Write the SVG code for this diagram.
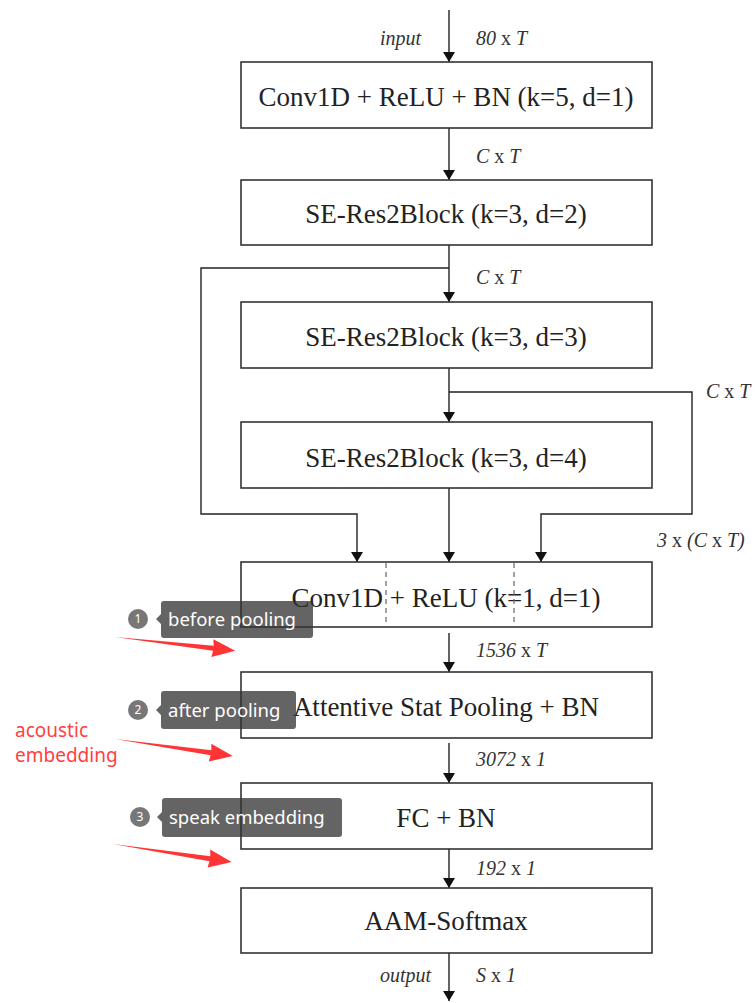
<svg xmlns="http://www.w3.org/2000/svg" width="756" height="1003" viewBox="0 0 756 1003">
<defs>
<marker id="ah" viewBox="0 0 10 16" refX="10" refY="8" markerWidth="10" markerHeight="16" markerUnits="userSpaceOnUse" orient="auto">
<path d="M0,2 L10,8 L0,14 Z" fill="#111"/>
</marker>
<style>
.box{fill:#fff;stroke:#333;stroke-width:1.6}
.bt{font-family:"Liberation Serif","Times New Roman",serif;font-size:27px;fill:#222;text-anchor:middle}
.lb{font-family:"Liberation Serif","Times New Roman",serif;font-size:20px;fill:#333;font-style:italic}
.rm{font-style:normal}
.ln{fill:none;stroke:#222;stroke-width:1.4}
.ar{fill:none;stroke:#222;stroke-width:1.4;marker-end:url(#ah)}
.dash{stroke:#666;stroke-width:1.2;stroke-dasharray:5,4}
.tip{fill:#333;fill-opacity:0.76}
.num{fill:#777}
.nt{font-family:"Noto Sans","DejaVu Sans",sans-serif;font-size:12px;fill:#fff;text-anchor:middle}
.tt{font-family:"Noto Sans","DejaVu Sans",sans-serif;font-size:18.5px;fill:#fff}
.red{fill:#ff3535}
.rt{font-family:"Noto Sans","DejaVu Sans",sans-serif;font-size:19px;fill:#ff4040}
</style>
</defs>
<rect width="756" height="1003" fill="#fff"/>

<g id="connectors">
<line class="ar" x1="449" y1="10" x2="449" y2="62"/>
<line class="ar" x1="449" y1="128" x2="449" y2="180"/>
<line class="ar" x1="449" y1="245" x2="449" y2="302"/>
<polyline class="ar" points="449,268 201,268 201,514 357,514 357,562"/>
<line class="ar" x1="449" y1="368" x2="449" y2="422"/>
<polyline class="ar" points="449,392 692,392 692,514 541,514 541,562"/>
<line class="ar" x1="449" y1="488" x2="449" y2="562"/>
<line class="ar" x1="449" y1="633" x2="449" y2="672"/>
<line class="ar" x1="449" y1="743" x2="449" y2="783"/>
<line class="ar" x1="449" y1="849" x2="449" y2="888"/>
<line class="ar" x1="449" y1="953" x2="449" y2="1001"/>
</g>

<g id="labels">
<text class="lb" x="380" y="45">input</text>
<text class="lb" x="476" y="45">80 <tspan class="rm">x</tspan> T</text>
<text class="lb" x="476" y="163">C <tspan class="rm">x</tspan> T</text>
<text class="lb" x="476" y="284">C <tspan class="rm">x</tspan> T</text>
<text class="lb" x="706" y="398">C <tspan class="rm">x</tspan> T</text>
<text class="lb" x="657" y="547">3 <tspan class="rm">x</tspan> (C <tspan class="rm">x</tspan> T)</text>
<text class="lb" x="476" y="657">1536 <tspan class="rm">x</tspan> T</text>
<text class="lb" x="476" y="766">3072 <tspan class="rm">x</tspan> 1</text>
<text class="lb" x="476" y="875">192 <tspan class="rm">x</tspan> 1</text>
<text class="lb" x="380" y="982">output</text>
<text class="lb" x="476" y="982">S <tspan class="rm">x</tspan> 1</text>
</g>

<g id="n1"><rect class="box" x="241" y="62" width="411" height="66"/><text class="bt" x="446" y="106">Conv1D + ReLU + BN (k=5, d=1)</text></g>
<g id="n2"><rect class="box" x="241" y="180" width="411" height="65"/><text class="bt" x="446" y="223">SE-Res2Block (k=3, d=2)</text></g>
<g id="n3"><rect class="box" x="241" y="302" width="411" height="66"/><text class="bt" x="446" y="346">SE-Res2Block (k=3, d=3)</text></g>
<g id="n4"><rect class="box" x="241" y="422" width="411" height="66"/><text class="bt" x="446" y="467">SE-Res2Block (k=3, d=4)</text></g>
<g id="n5"><rect class="box" x="241" y="562" width="411" height="65"/><text class="bt" x="446" y="607">Conv1D + ReLU (k=1, d=1)</text>
<line class="dash" x1="386" y1="563" x2="386" y2="626"/><line class="dash" x1="514" y1="563" x2="514" y2="626"/></g>
<g id="n6"><rect class="box" x="241" y="672" width="411" height="66"/><text class="bt" x="446" y="716">Attentive Stat Pooling + BN</text></g>
<g id="n7"><rect class="box" x="241" y="783" width="411" height="66"/><text class="bt" x="446" y="827">FC + BN</text></g>
<g id="n8"><rect class="box" x="241" y="888" width="411" height="65"/><text class="bt" x="446" y="930">AAM-Softmax</text></g>

<g id="tip1">
<circle class="num" cx="138" cy="619" r="10"/><text class="nt" x="138" y="623">1</text>
<path class="tip" d="M164,601 H310 a3,3 0 0 1 3,3 V635 a3,3 0 0 1 -3,3 H164 a3,3 0 0 1 -3,-3 V624 L156,619 L161,614 V604 a3,3 0 0 1 3,-3 Z"/>
<text class="tt" x="168" y="626">before pooling</text>
</g>
<g id="tip2">
<circle class="num" cx="138" cy="710" r="10"/><text class="nt" x="138" y="714">2</text>
<path class="tip" d="M164,691 H293 a3,3 0 0 1 3,3 V726 a3,3 0 0 1 -3,3 H164 a3,3 0 0 1 -3,-3 V715 L156,710 L161,705 V694 a3,3 0 0 1 3,-3 Z"/>
<text class="tt" x="168" y="717">after pooling</text>
</g>
<g id="tip3">
<circle class="num" cx="140" cy="817" r="10"/><text class="nt" x="140" y="821">3</text>
<path class="tip" d="M165,798 H339 a3,3 0 0 1 3,3 V834 a3,3 0 0 1 -3,3 H165 a3,3 0 0 1 -3,-3 V822 L157,817 L162,812 V801 a3,3 0 0 1 3,-3 Z"/>
<text class="tt" x="169" y="824">speak embedding</text>
</g>

<g id="red-arrows">
<path class="red" transform="translate(115,637) rotate(6.5)" d="M0,0 L99,-2.5 L98,-9 L121,0 L98,9 L99,2.5 Z"/>
<path class="red" transform="translate(115,739) rotate(8.2)" d="M0,0 L97,-2.5 L96,-9 L119,0 L96,9 L97,2.5 Z"/>
<path class="red" transform="translate(113,844) rotate(8.6)" d="M0,0 L98,-2.5 L97,-9 L120,0 L97,9 L98,2.5 Z"/>
<text class="rt" x="15" y="737">acoustic</text>
<text class="rt" x="15" y="762">embedding</text>
</g>
</svg>
